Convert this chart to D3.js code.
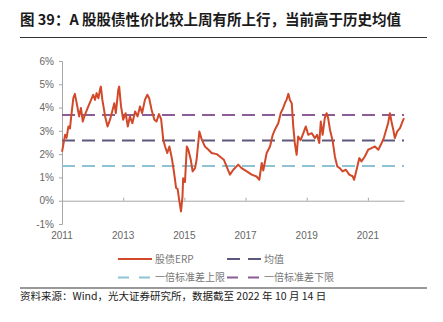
<!DOCTYPE html>
<html>
<head>
<meta charset="utf-8">
<script src="https://cdn.jsdelivr.net/npm/d3@7"></script>
<style>
  html, body { margin: 0; padding: 0; background: #fff; }
  svg { display: block; }
</style>
</head>
<body>
<svg id="chart" width="443" height="322"></svg>
<script>
// ---- data (decimal-year position, ERP %) ----
const years = [2011.00,2011.03,2011.10,2011.15,2011.21,2011.26,2011.29,2011.37,2011.42,2011.48,2011.56,2011.62,2011.68,2011.75,2011.86,2011.95,2012.02,2012.08,2012.13,2012.19,2012.24,2012.27,2012.32,2012.41,2012.49,2012.57,2012.64,2012.71,2012.76,2012.84,2012.87,2012.93,2013.00,2013.08,2013.15,2013.22,2013.30,2013.39,2013.47,2013.55,2013.62,2013.71,2013.79,2013.85,2013.93,2014.02,2014.09,2014.17,2014.24,2014.31,2014.37,2014.44,2014.51,2014.59,2014.65,2014.73,2014.78,2014.83,2014.89,2014.94,2014.96,2015.02,2015.08,2015.13,2015.21,2015.27,2015.35,2015.40,2015.49,2015.57,2015.67,2015.78,2015.89,2016.06,2016.16,2016.29,2016.38,2016.49,2016.60,2016.76,2016.87,2017.04,2017.20,2017.36,2017.45,2017.53,2017.58,2017.69,2017.80,2017.89,2017.96,2018.07,2018.15,2018.23,2018.29,2018.34,2018.40,2018.45,2018.51,2018.56,2018.61,2018.67,2018.72,2018.80,2018.89,2018.97,2019.05,2019.16,2019.27,2019.34,2019.41,2019.46,2019.52,2019.59,2019.65,2019.70,2019.76,2019.85,2019.92,2020.00,2020.08,2020.17,2020.28,2020.39,2020.50,2020.55,2020.63,2020.72,2020.79,2020.90,2021.01,2021.12,2021.23,2021.34,2021.45,2021.52,2021.61,2021.66,2021.72,2021.77,2021.83,2021.88,2021.96,2022.05,2022.13,2022.18];
const erp = [2.10,2.30,2.83,2.70,3.19,3.10,3.48,4.41,4.59,4.19,3.62,3.98,3.40,3.69,4.05,4.33,4.55,4.33,4.62,4.40,4.76,4.90,4.33,3.62,3.19,3.48,3.83,4.19,3.76,4.76,4.90,4.05,3.48,3.76,3.19,3.62,3.33,3.83,3.62,4.05,3.76,4.33,4.55,4.40,3.90,3.48,3.40,3.72,3.50,2.62,2.33,2.05,2.33,1.83,1.33,0.55,0.50,0.04,-0.46,0.20,0.97,0.80,2.33,2.19,1.76,1.26,1.40,1.76,2.97,2.62,2.33,2.20,2.05,2.00,1.90,1.76,1.47,1.12,1.33,1.55,1.40,1.26,1.12,1.04,0.90,1.62,1.30,2.05,2.33,2.83,3.05,3.33,3.76,3.98,4.20,4.33,4.59,4.33,4.19,3.19,2.48,1.97,2.76,2.60,2.90,3.19,2.83,2.90,2.69,2.83,2.48,3.40,2.83,3.55,3.76,3.55,3.05,2.55,1.90,1.47,1.40,1.26,1.33,1.12,1.05,0.90,1.33,1.83,1.69,1.90,2.19,2.26,2.33,2.19,2.48,2.69,3.10,3.33,3.76,3.40,3.05,2.69,2.98,3.12,3.40,3.55];
const meanValue = 2.59;
const upperValue = 1.49;   // 一倍标准差上限 (as labelled)
const lowerValue = 3.68;   // 一倍标准差下限 (as labelled)
const yTicks = [-1, 0, 1, 2, 3, 4, 5, 6];
const xTicks = [2011, 2013, 2015, 2017, 2019, 2021];
const seriesNames = ["股债ERP", "均值", "一倍标准差上限", "一倍标准差下限"];
const titleText = "图 39：A 股股债性价比较上周有所上行，当前高于历史均值";
const sourceText = "资料来源：Wind，光大证券研究所，数据截至 2022 年 10 月 14 日";

// ---- drawing ----
const svg = d3.select("#chart");
const font = "'Liberation Sans', Arial, 'Noto Sans CJK SC', sans-serif";
const cjk = "'Noto Sans CJK SC', 'Liberation Sans', sans-serif";
const colors = { erp: "#d2492a", mean: "#5c587c", upper: "#8ec3d6", lower: "#8b5c96" };

// title
svg.append("text").attr("x", 20).attr("y", 25)
  .attr("font-family", cjk).attr("font-size", 14.5).attr("font-weight", "bold")
  .attr("fill", "#1a1a1a").text(titleText);
svg.append("line").attr("x1", 20).attr("x2", 427).attr("y1", 37.5).attr("y2", 37.5)
  .attr("stroke", "#333").attr("stroke-width", 1);

const x = d3.scaleLinear().domain([2011, 2022.18]).range([62, 404]);
const y = d3.scaleLinear().domain([-1, 6]).range([224, 61]);

// y axis
const yAxis = svg.append("g").attr("transform", "translate(62,0)")
  .call(d3.axisLeft(y).tickValues(yTicks).tickSize(3).tickPadding(5).tickFormat(d => d + "%"));
yAxis.select(".domain").attr("stroke", "#a6a6a6");
yAxis.selectAll(".tick line").attr("stroke", "#a6a6a6");
yAxis.selectAll("text").attr("font-family", font).attr("font-size", 10).attr("fill", "#666");

// x axis at 0%
const xAxis = svg.append("g").attr("transform", `translate(0,${y(0)})`)
  .call(d3.axisTop(x).tickValues(xTicks).tickSize(3).tickSizeOuter(0).tickFormat(""));
xAxis.select(".domain").attr("stroke", "#a6a6a6");
xAxis.selectAll(".tick line").attr("stroke", "#a6a6a6");
// x labels at bottom
svg.append("g").selectAll("text").data(xTicks).join("text")
  .attr("x", d => x(d)).attr("y", 239).attr("text-anchor", "middle")
  .attr("font-family", font).attr("font-size", 10).attr("fill", "#666")
  .text(d => d);

// reference lines
const refs = [
  { v: lowerValue, c: colors.lower },
  { v: meanValue, c: colors.mean },
  { v: upperValue, c: colors.upper }
];
svg.append("g").selectAll("line").data(refs).join("line")
  .attr("x1", x(2011)).attr("x2", x(2022.18))
  .attr("y1", d => y(d.v)).attr("y2", d => y(d.v))
  .attr("stroke", d => d.c).attr("stroke-width", 2).attr("stroke-dasharray", "13,7");

// ERP line
const pts = years.map((t, i) => [t, erp[i]]);
svg.append("path").datum(pts)
  .attr("fill", "none").attr("stroke", colors.erp).attr("stroke-width", 2)
  .attr("stroke-linejoin", "round")
  .attr("d", d3.line().x(d => x(d[0])).y(d => y(d[1])));

// legend
const legend = [
  { name: seriesNames[0], c: colors.erp, dash: null, lx: 118, ly: 259 },
  { name: seriesNames[1], c: colors.mean, dash: "13,8", lx: 227, ly: 259 },
  { name: seriesNames[2], c: colors.upper, dash: "11,10", lx: 118, ly: 277.5 },
  { name: seriesNames[3], c: colors.lower, dash: "11,10", lx: 227, ly: 277.5 }
];
const lg = svg.append("g").selectAll("g").data(legend).join("g")
  .attr("transform", d => `translate(${d.lx},${d.ly})`);
lg.append("line").attr("x1", 0).attr("x2", 34).attr("y1", 0).attr("y2", 0)
  .attr("stroke", d => d.c).attr("stroke-width", 2)
  .attr("stroke-dasharray", d => d.dash);
lg.append("text").attr("x", 37).attr("y", 0).attr("dy", "0.35em")
  .attr("font-family", cjk).attr("font-size", 10).attr("fill", "#777")
  .text(d => d.name);

// bottom line and source
svg.append("line").attr("x1", 20).attr("x2", 427).attr("y1", 288).attr("y2", 288)
  .attr("stroke", "#777").attr("stroke-width", 1.5);
svg.append("text").attr("x", 20).attr("y", 300)
  .attr("font-family", cjk).attr("font-size", 10.5).attr("fill", "#1a1a1a")
  .text(sourceText);
</script>
</body>
</html>
